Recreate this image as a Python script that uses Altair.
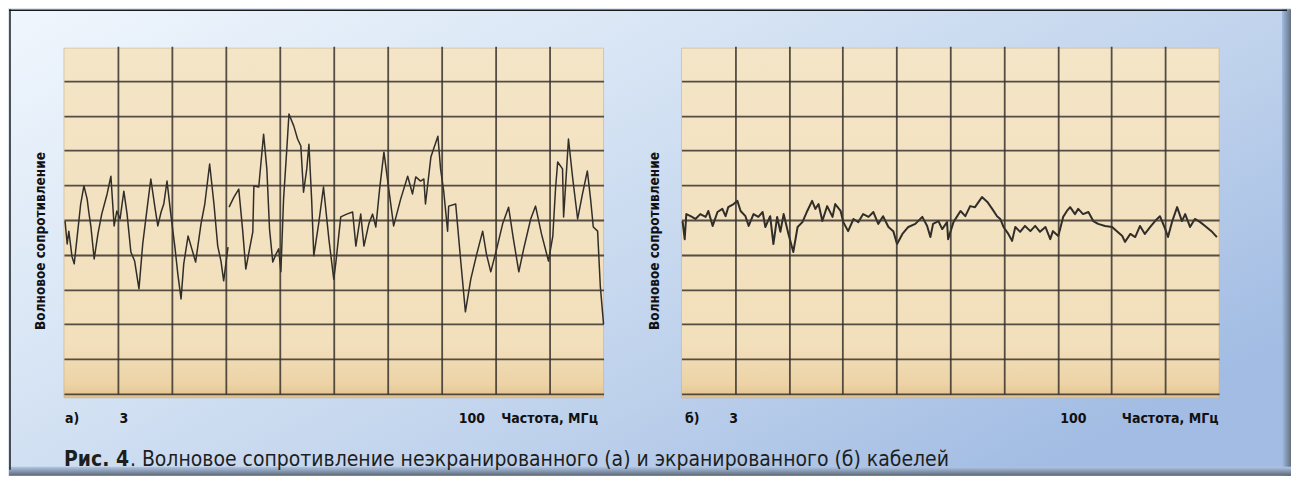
import altair as alt
import pandas as pd

# ---------------- data (grid units: 10 divisions per axis) ----------------
LEFT_X = [0.02, 0.06, 0.09, 0.15, 0.19, 0.24, 0.31, 0.37, 0.43, 0.46,
          0.50, 0.56, 0.63, 0.70, 0.80, 0.87, 0.93, 0.98, 1.04, 1.11,
          1.17, 1.24, 1.31, 1.39, 1.46, 1.54, 1.61, 1.69, 1.74, 1.80,
          1.85, 1.91, 1.98, 2.06, 2.11, 2.17, 2.22, 2.30, 2.37, 2.44,
          2.54, 2.61, 2.70, 2.78, 2.85, 2.91, 2.96, 3.04,
          3.06, 3.15, 3.24, 3.31, 3.37, 3.44, 3.50, 3.52, 3.61, 3.70,
          3.76, 3.81, 3.87, 3.93, 3.98, 4.02, 4.07, 4.13, 4.17, 4.26,
          4.33, 4.39, 4.44, 4.50, 4.54, 4.59, 4.63, 4.72, 4.81, 4.91,
          5.00, 5.04, 5.13, 5.24, 5.35, 5.41, 5.50, 5.56, 5.65, 5.72,
          5.78, 5.85, 5.93, 6.02, 6.11, 6.24, 6.37, 6.46, 6.52, 6.61,
          6.67, 6.70, 6.80, 6.93, 6.98, 7.04, 7.11, 7.13, 7.26, 7.35,
          7.44, 7.54, 7.65, 7.76, 7.83, 7.91, 8.02, 8.13, 8.24, 8.33,
          8.43, 8.52, 8.65, 8.74, 8.85, 8.98, 9.06, 9.11, 9.15, 9.24,
          9.26, 9.31, 9.35, 9.43, 9.52, 9.61, 9.70, 9.76, 9.81, 9.89,
          9.94, 10.0]
LEFT_Y = [4.97, 4.31, 4.68, 3.94, 3.74, 4.45, 5.46, 5.98, 5.60, 5.23,
          4.80, 3.88, 4.60, 5.17, 5.75, 6.26, 4.83, 5.26, 5.03, 5.83,
          5.17, 4.08, 3.82, 3.02, 4.31, 5.32, 6.18, 5.32, 4.83, 5.23,
          5.46, 6.12, 5.17, 4.17, 3.45, 2.73, 3.74, 4.54, 4.17, 3.79,
          4.89, 5.46, 6.61, 5.46, 4.25, 3.82, 3.25, 4.22,
          5.37, 5.66, 5.89, 4.74, 3.59, 4.17, 4.66, 5.98, 5.95, 7.47,
          6.47, 4.74, 3.79, 4.02, 4.17, 3.51, 5.60, 7.04, 8.05, 7.70,
          7.33, 7.13, 5.80, 6.47, 7.18, 5.60, 3.97, 4.89, 5.95, 4.45,
          3.30, 3.79, 5.09, 5.17, 5.23, 4.25, 5.17, 4.25, 4.89, 5.17,
          4.80, 5.89, 6.95, 5.89, 4.83, 5.60, 6.26, 5.75, 6.24, 6.12,
          6.18, 5.46, 6.81, 7.41, 6.47, 5.80, 4.68, 5.40, 5.46, 3.88,
          2.36, 3.30, 4.02, 4.68, 4.02, 3.51, 4.17, 4.89, 5.37, 4.45,
          3.51, 4.17, 5.03, 5.40, 4.60, 3.82, 4.54, 5.89, 6.67, 6.47,
          5.09, 6.32, 7.33, 6.18, 5.03, 5.75, 6.41, 5.60, 4.80, 4.68,
          3.10, 2.01]
LEFT_FIRST_STROKE = 48   # the trace of (а) is broken after this many points

RIGHT_X = [0.02, 0.06, 0.09, 0.17, 0.26, 0.35, 0.45, 0.50, 0.58, 0.67,
           0.76, 0.82, 0.87, 0.97, 1.04, 1.10, 1.19, 1.25, 1.34, 1.43,
           1.51, 1.56, 1.65, 1.71, 1.78, 1.84, 1.90, 1.99, 2.08, 2.16,
           2.25, 2.34, 2.43, 2.49, 2.55, 2.62, 2.71, 2.81, 2.86, 2.96,
           3.01, 3.10, 3.20, 3.29, 3.38, 3.48, 3.57, 3.66, 3.75, 3.85,
           3.94, 4.01, 4.11, 4.22, 4.35, 4.48, 4.57, 4.63, 4.68, 4.78,
           4.85, 4.94, 4.96, 5.06, 5.19, 5.28, 5.37, 5.46, 5.59, 5.69,
           5.78, 5.87, 5.93, 5.99, 6.08, 6.15, 6.21, 6.30, 6.39, 6.49,
           6.58, 6.67, 6.77, 6.86, 6.91, 7.01, 7.10, 7.17, 7.23, 7.32,
           7.38, 7.47, 7.57, 7.66, 7.75, 7.88, 8.01, 8.10, 8.20, 8.25,
           8.35, 8.44, 8.53, 8.62, 8.72, 8.81, 8.90, 9.00, 9.05, 9.13,
           9.22, 9.31, 9.37, 9.46, 9.55, 9.65, 9.74, 9.87, 9.96]
RIGHT_Y = [4.97, 4.45, 5.17, 5.11, 5.03, 5.17, 5.09, 5.26, 4.83, 5.23,
           5.32, 5.11, 5.37, 5.46, 5.55, 5.26, 5.11, 4.83, 5.17, 5.09,
           5.23, 4.80, 5.11, 4.31, 5.09, 4.66, 5.17, 4.60, 4.08, 4.80,
           4.94, 5.26, 5.55, 5.32, 5.46, 4.97, 5.40, 5.09, 5.46, 5.26,
           4.94, 4.68, 5.03, 4.94, 5.17, 5.09, 5.23, 4.89, 5.11, 4.80,
           4.68, 4.31, 4.60, 4.80, 4.89, 5.09, 4.83, 4.51, 4.89, 4.97,
           4.74, 4.94, 4.45, 4.94, 5.26, 5.11, 5.40, 5.37, 5.66, 5.52,
           5.32, 5.11, 5.03, 4.80, 4.60, 4.40, 4.80, 4.66, 4.83, 4.68,
           4.83, 4.66, 4.80, 4.45, 4.68, 4.54, 5.09, 5.26, 5.37, 5.17,
           5.32, 5.17, 5.23, 4.97, 4.89, 4.83, 4.80, 4.68, 4.54, 4.37,
           4.60, 4.51, 4.83, 4.60, 4.80, 4.97, 5.11, 4.74, 4.51, 4.97,
           5.37, 4.97, 5.17, 4.80, 5.03, 4.94, 4.83, 4.66, 4.51]

GRID_X = [1, 2, 3, 4, 5, 6, 7, 8, 9]
GRID_Y = [0, 1, 2, 3, 4, 5, 6, 7, 8, 9]

LEFT_TICK_TEXT = ["а)", "3", "100", "Частота, МГц"]
LEFT_TICK_POS = [0.15, 1.11, 7.56, 9.0]
RIGHT_TICK_TEXT = ["б)", "3", "100", "Частота, МГц"]
RIGHT_TICK_POS = [0.20, 0.97, 7.29, 9.09]

Y_TITLE = "Волновое сопротивление"
CAPTION_BOLD = "Рис. 4"
CAPTION_REST = ". Волновое сопротивление неэкранированного (а) и экранированного (б) кабелей"

# ---------------- styles ----------------
W_LEFT, W_RIGHT, H = 540, 538, 348
GRID_COLOR = "#37322d"
LINE_COLOR = "#1c1b1a"
LABEL_FONT = "DejaVu Sans Condensed, Liberation Sans, sans-serif"
CAPTION_FONT = "DejaVu Sans Condensed, Liberation Sans, sans-serif"

BG_GRADIENT = {
    "gradient": "linear", "x1": 0, "y1": 0, "x2": 1, "y2": 0.7,
    "stops": [
        {"offset": 0.0, "color": "#f0f6fd"},
        {"offset": 0.35, "color": "#d9e6f5"},
        {"offset": 0.7, "color": "#bfd2ec"},
        {"offset": 1.0, "color": "#a2bce3"},
    ],
}
PAPER_GRADIENT = {
    "gradient": "linear", "x1": 0, "y1": 0, "x2": 0, "y2": 1,
    "stops": [
        {"offset": 0.0, "color": "#f4e5c7"},
        {"offset": 0.85, "color": "#f2dfbb"},
        {"offset": 0.96, "color": "#edd3a6"},
        {"offset": 1.0, "color": "#e2c38e"},
    ],
}
RIGHT_SHADE = {
    "gradient": "linear", "x1": 0, "y1": 0, "x2": 1, "y2": 0,
    "stops": [{"offset": 0.0, "color": "#a2bce3"}, {"offset": 1.0, "color": "#66717f"}],
}
BOTTOM_SHADE = {
    "gradient": "linear", "x1": 0, "y1": 0, "x2": 0, "y2": 1,
    "stops": [{"offset": 0.0, "color": "#b0c6e6"}, {"offset": 1.0, "color": "#5b6673"}],
}

ONE = alt.Data(values=[{"k": 1}])


def encodings():
    xenc = alt.X("x:Q", title=None,
                 scale=alt.Scale(domain=[0, 10], nice=False, zero=False),
                 axis=alt.Axis(values=GRID_X, grid=True, labels=False, ticks=False,
                               domain=False, gridColor=GRID_COLOR, gridWidth=1.8,
                               gridOpacity=0.85, zindex=1))
    yenc = alt.Y("y:Q", title=None,
                 scale=alt.Scale(domain=[0, 10], nice=False, zero=False),
                 axis=alt.Axis(values=GRID_Y, grid=True, labels=False, ticks=False,
                               domain=False, gridColor=GRID_COLOR, gridWidth=1.8,
                               gridOpacity=0.85, zindex=1))
    return xenc, yenc


def panel(xs, ys, segs, tick_text, tick_pos, width, stroke_w, title_x, decor):
    xenc, yenc = encodings()
    line_df = pd.DataFrame({"x": xs, "y": ys, "seg": segs, "i": list(range(len(xs)))})
    tick_df = pd.DataFrame({"x": tick_pos, "label": tick_text})

    paper = alt.Chart(ONE).mark_rect(fill=PAPER_GRADIENT, stroke="#c9b189",
                                     strokeWidth=1, strokeOpacity=0.6).encode(
        x=alt.value(0), x2=alt.value(width), y=alt.value(2), y2=alt.value(352))
    trace = alt.Chart(line_df).mark_line(color=LINE_COLOR, strokeWidth=stroke_w,
                                         strokeJoin="round", opacity=0.9).encode(
        x=xenc, y=yenc, detail="seg:N", order="i:Q")
    ticks = alt.Chart(tick_df).mark_text(font=LABEL_FONT, fontSize=14, fontWeight="bold",
                                         color="#111111", align="center",
                                         baseline="alphabetic").encode(
        x=xenc, y=alt.value(377), text="label:N")
    ytitle = alt.Chart(alt.Data(values=[{"t": Y_TITLE}])).mark_text(
        font=LABEL_FONT, fontSize=13.5, fontWeight="bold", color="#111111",
        angle=270, align="center", baseline="middle").encode(
        x=alt.value(title_x), y=alt.value(195), text="t:N")
    return alt.layer(*decor, paper, trace, ticks, ytitle).properties(width=width, height=H)


# decoration layers (only in the left panel, drawn first so they sit under everything)
background = alt.Chart(ONE).mark_rect(fill=BG_GRADIENT).encode(
    x=alt.value(-55), x2=alt.value(1228), y=alt.value(-37), y2=alt.value(430))
right_shade = alt.Chart(ONE).mark_rect(fill=RIGHT_SHADE).encode(
    x=alt.value(1219), x2=alt.value(1228), y=alt.value(-37), y2=alt.value(430))
bottom_shade = alt.Chart(ONE).mark_rect(fill=BOTTOM_SHADE).encode(
    x=alt.value(-55), x2=alt.value(1228), y=alt.value(421), y2=alt.value(430))
top_border = alt.Chart(ONE).mark_rule(color="#1a1a1a", strokeWidth=1.5).encode(
    x=alt.value(-55), x2=alt.value(1224), y=alt.value(-36))
left_border = alt.Chart(ONE).mark_rule(color="#1a1a1a", strokeWidth=1.5).encode(
    x=alt.value(-54), y=alt.value(-37), y2=alt.value(424))
caption_bold = alt.Chart(alt.Data(values=[{"t": CAPTION_BOLD}])).mark_text(
    font=CAPTION_FONT, fontSize=21, fontWeight="bold", color="#1e1e1e",
    align="left", baseline="alphabetic").encode(
    x=alt.value(0), y=alt.value(420), text="t:N")
caption_rest = alt.Chart(alt.Data(values=[{"t": CAPTION_REST}])).mark_text(
    font=CAPTION_FONT, fontSize=21, color="#1e1e1e",
    align="left", baseline="alphabetic").encode(
    x=alt.value(66), y=alt.value(420), text="t:N")

left_segs = [0] * LEFT_FIRST_STROKE + [1] * (len(LEFT_X) - LEFT_FIRST_STROKE)
left = panel(LEFT_X, LEFT_Y, left_segs, LEFT_TICK_TEXT, LEFT_TICK_POS, W_LEFT, 1.5, -23,
             [background, right_shade, bottom_shade, top_border, left_border,
              caption_bold, caption_rest])
right = panel(RIGHT_X, RIGHT_Y, [0] * len(RIGHT_X), RIGHT_TICK_TEXT, RIGHT_TICK_POS,
              W_RIGHT, 2.0, -26, [])

chart = alt.hconcat(left, right, spacing=78, bounds="flush").properties(
    padding=0, background="#dbe7f5"
).configure_view(strokeOpacity=0)

chart.save("out.html", embed_options={"renderer": "svg", "actions": False})
